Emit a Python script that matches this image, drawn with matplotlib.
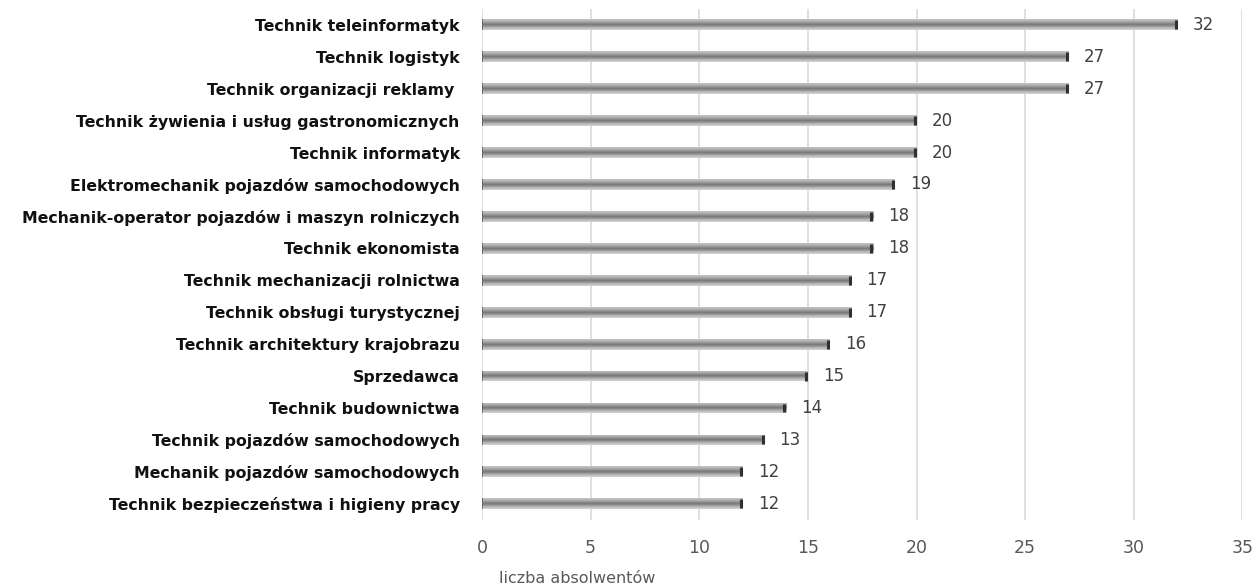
import matplotlib.pyplot as plt
import numpy as np

# Data (top to bottom as shown)
categories = [
    'Technik teleinformatyk',
    'Technik logistyk',
    'Technik organizacji reklamy ',
    'Technik żywienia i usług gastronomicznych',
    'Technik informatyk',
    'Elektromechanik pojazdów samochodowych',
    'Mechanik-operator pojazdów i maszyn rolniczych',
    'Technik ekonomista',
    'Technik mechanizacji rolnictwa',
    'Technik obsługi turystycznej',
    'Technik architektury krajobrazu',
    'Sprzedawca',
    'Technik budownictwa',
    'Technik pojazdów samochodowych',
    'Mechanik pojazdów samochodowych',
    'Technik bezpieczeństwa i higieny pracy',
]
values = [32, 27, 27, 20, 20, 19, 18, 18, 17, 17, 16, 15, 14, 13, 12, 12]
xticks = [0, 5, 10, 15, 20, 25, 30, 35]

fig = plt.figure(figsize=(12.55, 5.86), dpi=100)
ax = fig.add_axes([0.384, 0.113, 0.606, 0.872])

y = np.arange(len(categories))[::-1]
bars = ax.barh(y, values, height=0.34, color='#a8a8a8', edgecolor='none', zorder=2)

# cylinder-like shading for each bar
grad = np.array([0.82, 0.74, 0.66, 0.55, 0.46, 0.55, 0.64, 0.70, 0.76]).reshape(-1, 1)
for b in bars:
    x0, y0 = b.get_x(), b.get_y()
    w, h = b.get_width(), b.get_height()
    im = ax.imshow(grad, cmap='gray', vmin=0, vmax=1, aspect='auto',
                   extent=[x0, x0 + w, y0, y0 + h], origin='lower',
                   interpolation='bicubic', zorder=3)
    im.set_clip_path(b)
    # darker end cap
    ax.plot([x0 + w - 0.08, x0 + w - 0.08], [y0 + 0.03, y0 + h - 0.03],
            color='#303030', lw=2.2, zorder=4, solid_capstyle='butt')
    ax.plot([x0 + 0.02, x0 + 0.02], [y0, y0 + h],
            color='#606060', lw=1.2, zorder=4, solid_capstyle='butt')
    ax.text(x0 + w + 0.7, y0 + h / 2, str(int(w)), va='center', ha='left',
            fontsize=12, color='#404040')

ax.set_xlim(0, 35)
ax.set_ylim(-0.5, len(categories) - 0.5)
ax.set_xticks(xticks)
ax.set_xticklabels([str(t) for t in xticks], fontsize=12.5, color='#595959')
ax.set_yticks(y)
ax.set_yticklabels(categories, fontsize=11.3, fontweight='bold', color='#111111')
ax.tick_params(axis='y', length=0, pad=16)
ax.tick_params(axis='x', length=0, pad=14)
ax.grid(axis='x', color='#d9d9d9', lw=1.2, zorder=0)
ax.set_axisbelow(True)
for s in ax.spines.values():
    s.set_visible(False)
ax.set_xlabel('liczba absolwentów', fontsize=11.5, color='#595959')
ax.xaxis.set_label_coords(0.125, -0.1)

fig.savefig('out.png', dpi=100, facecolor='white')
